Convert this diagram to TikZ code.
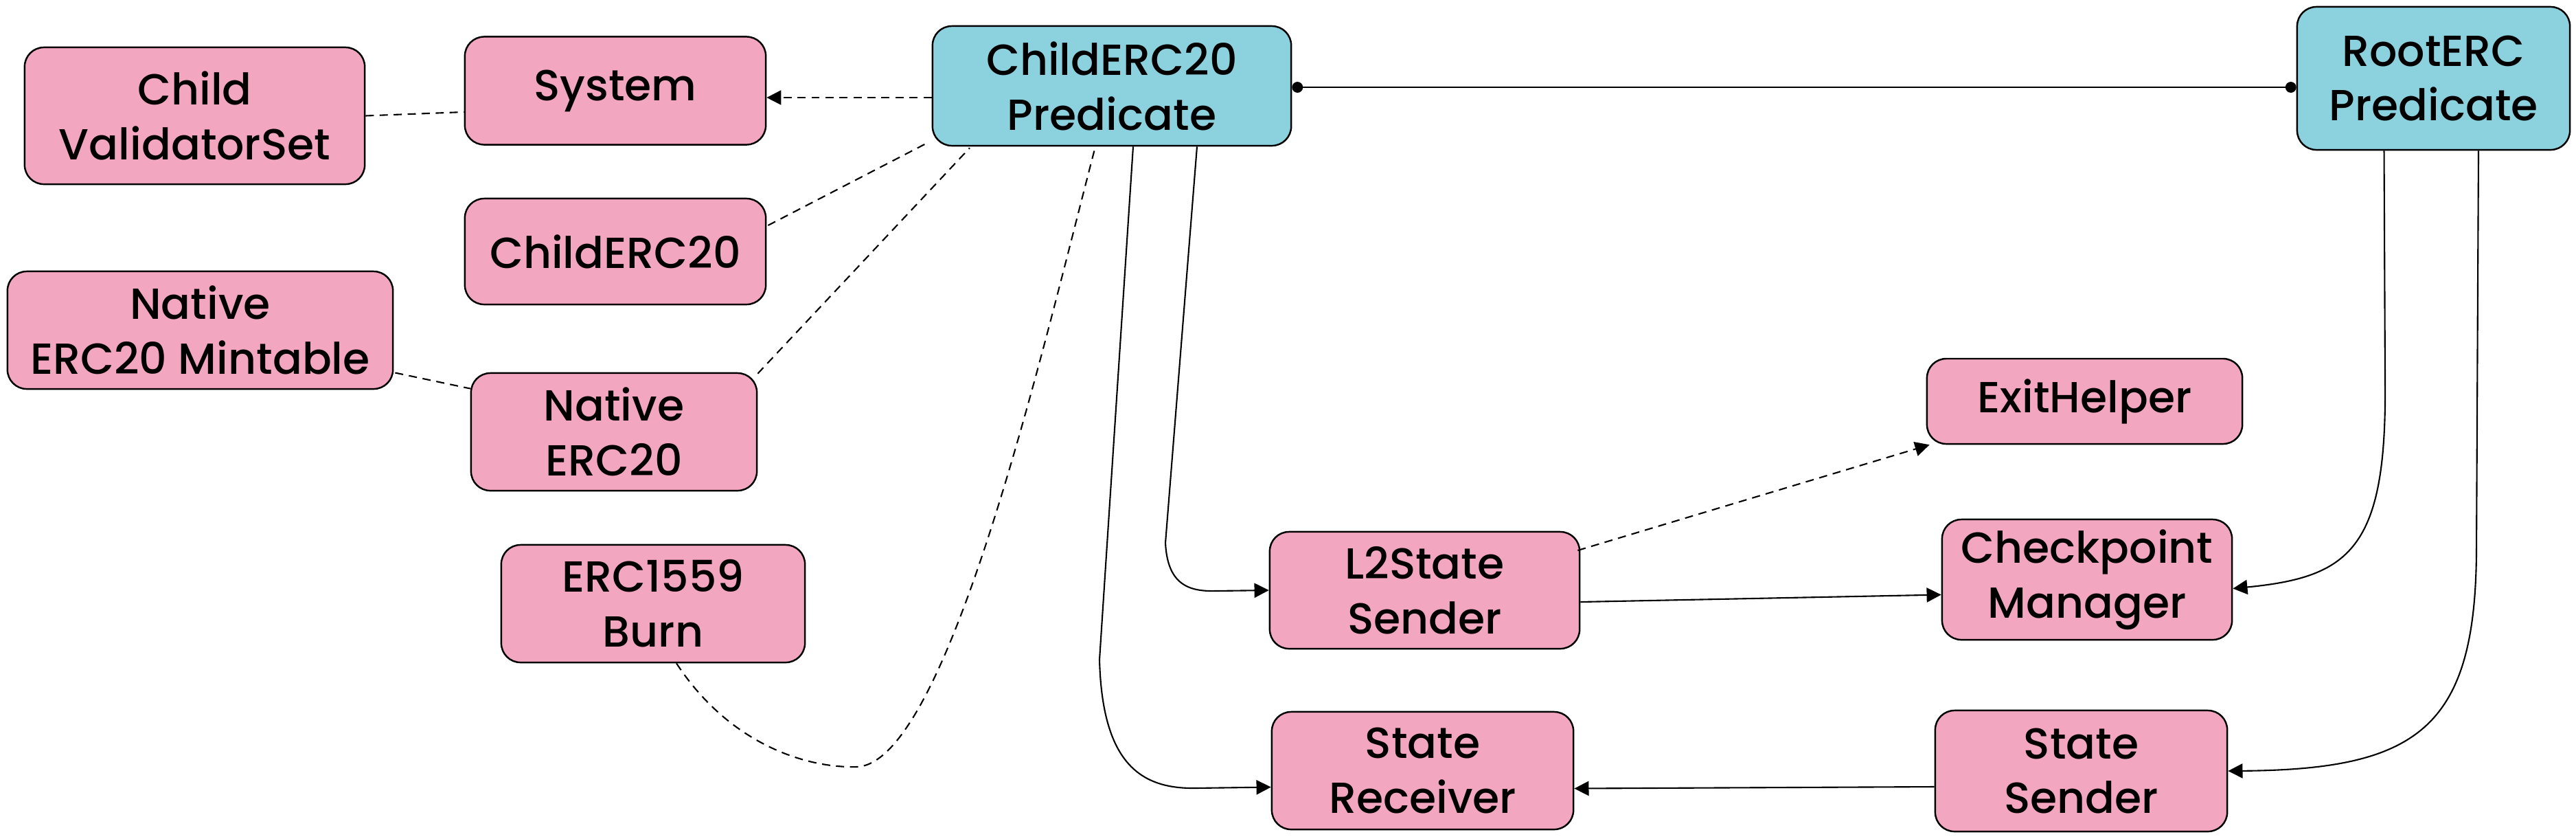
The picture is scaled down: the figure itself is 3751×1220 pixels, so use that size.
\documentclass[tikz,border=0pt]{standalone}
\usepackage{fontspec}
\setmainfont{Poppins Medium}
\usetikzlibrary{arrows.meta,calc}
\definecolor{pinkfill}{RGB}{243,166,192}
\definecolor{cyanfill}{RGB}{140,210,222}
\begin{document}
\begin{tikzpicture}[x=0.01cm,y=-0.01cm,
  basebox/.style={draw=black, line width=0.7pt, rounded corners=8pt, align=center, inner sep=0pt,
    font=\fontsize{18}{22.7}\selectfont},
  pbox/.style={basebox, fill=pinkfill},
  cbox/.style={basebox, fill=cyanfill},
  conn/.style={line width=0.6pt, draw=black},
  dconn/.style={conn, dash pattern=on 3.4pt off 2.4pt},
  tip/.style={-{Triangle[length=6pt,width=6pt]}},
  dots/.style={{Circle[length=4.5pt]}-{Circle[length=4.5pt]}}
]
\useasboundingbox (0,0) rectangle (3751,1220);

\node[pbox, minimum width=4.95cm, minimum height=1.99cm] (cvs) at (283.5,168.5) {Child\\ValidatorSet};
\node[pbox, minimum width=4.38cm, minimum height=1.57cm] (sys) at (896,132) {System};
\node[cbox, minimum width=5.22cm, minimum height=1.74cm] (cpred) at (1619,125) {ChildERC20\\Predicate};
\node[cbox, minimum width=3.97cm, minimum height=2.08cm] (rpred) at (3543.5,114) {RootERC\\Predicate};
\node[pbox, minimum width=4.38cm, minimum height=1.54cm] (cerc) at (896,366) {ChildERC20};
\node[pbox, minimum width=5.61cm, minimum height=1.71cm] (nem) at (291.5,480.5) {Native\\ERC20 Mintable};
\node[pbox, minimum width=4.16cm, minimum height=1.71cm] (nerc) at (894,628.5) {Native\\ERC20};
\node[pbox, minimum width=4.42cm, minimum height=1.71cm] (burn) at (951,878.5) {ERC1559\\Burn};
\node[pbox, minimum width=4.59cm, minimum height=1.24cm] (exit) at (3035.5,584) {ExitHelper};
\node[pbox, minimum width=4.51cm, minimum height=1.70cm] (l2s) at (2074.5,859) {L2State\\Sender};
\node[pbox, minimum width=4.22cm, minimum height=1.75cm] (ckpt) at (3039,843.5) {Checkpoint\\Manager};
\node[pbox, minimum width=4.39cm, minimum height=1.71cm] (srecv) at (2071.5,1121.5) {State\\Receiver};
\node[pbox, minimum width=4.25cm, minimum height=1.76cm] (ssend) at (3030.5,1122) {State\\Sender};

% dashed links on the left
\draw[dconn, tip] ($(cpred.west)+(0,17)$) -- ($(sys.east)+(0,10)$);
\draw[dconn] (cvs.east) -- ($(sys.west)+(0,31)$);
\draw[dconn] ($(cerc.east)+(2,-38)$) -- ($(cpred.south west)+(-5,-6)$);
\draw[dconn] ($(nerc.north east)+(0,2)$) -- ($(cpred.south)+(-207,2)$);
\draw[dconn] ($(nem.east)+(2,62)$) -- ($(nerc.west)+(0,-63)$);
\draw[dconn] ($(burn.south)+(34,0)$) .. controls (1060,1080) and (1170,1118) .. (1248,1116)
  .. controls (1380,1110) and (1520,500) .. ($(cpred.south)+(-24,0)$);

% predicate link
\draw[conn, dots] ($(cpred.east)+(0,2)$) -- ($(rpred.west)+(0,13)$);

% solid arrows from ChildERC20 Predicate
\draw[conn, tip] ($(cpred.south)+(124,0)$) -- (1697,790) .. controls (1700,850) and (1730,861) .. (1770,860) -- (l2s.west);
\draw[conn, tip] ($(cpred.south)+(31,0)$) -- (1601,960) .. controls (1605,1110) and (1660,1148) .. (1740,1147) -- ($(srecv.west)+(0,24)$);

% middle links
\draw[dconn, tip] ($(l2s.east)+(-4,-58)$) -- ($(exit.south west)+(5,0)$);
\draw[conn, tip] ($(l2s.east)+(0,17)$) -- ($(ckpt.west)+(0,22)$);
\draw[conn, tip] ($(ssend.west)+(0,23)$) -- ($(srecv.east)+(0,26)$);

% from RootERC Predicate
\draw[conn, tip] ($(rpred.south)+(-72,0)$) -- (3473,560) .. controls (3475,800) and (3420,840) .. ($(ckpt.east)+(0,13)$);
\draw[conn, tip] ($(rpred.south)+(65.5,0)$) -- (3606,800) .. controls (3605,1060) and (3520,1120) .. (ssend.east);
\end{tikzpicture}
\end{document}
